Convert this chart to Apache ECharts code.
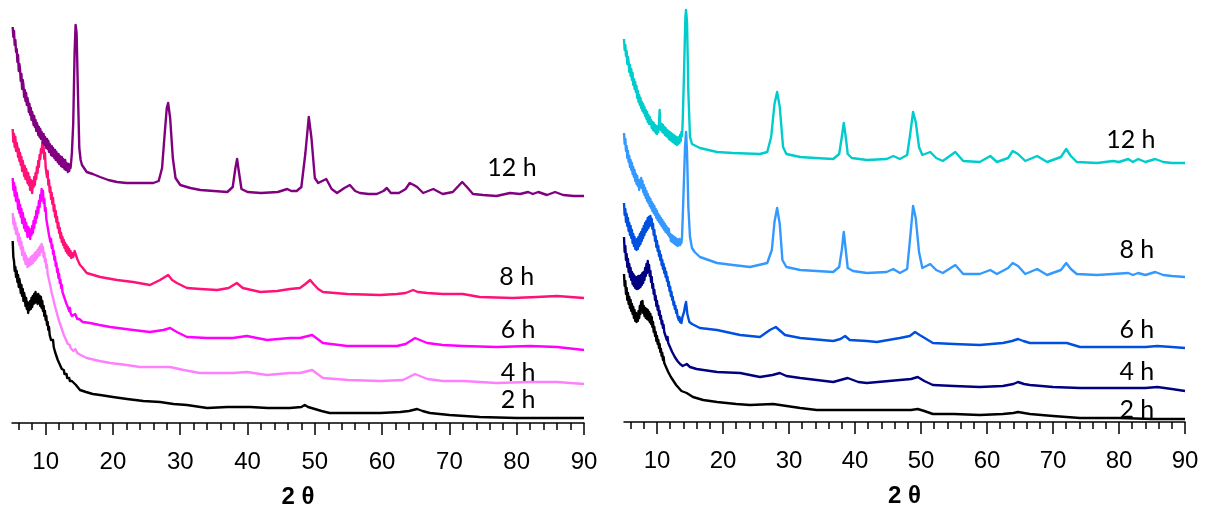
<!DOCTYPE html>
<html>
<head>
<meta charset="utf-8">
<script src="https://cdn.jsdelivr.net/npm/echarts@6/dist/echarts.min.js"></script>
<style>
  html, body { margin: 0; padding: 0; background: #ffffff; }
  #chart { width: 1208px; height: 512px; }
</style>
</head>
<body>
<div id="chart"></div>
<script>
// XRD patterns: intensity (a.u., each reaction time offset vertically) versus 2θ (degrees).
// Each pattern = a fine low-angle scan (0.1° step, noisy region) + the remaining [2θ, I] points.

const SCAN_STEP = 0.1;
const LEFT_SCAN_START = 5.1;
const RIGHT_SCAN_START = 5.0;

// ---------------- left panel ----------------
const left12hScan = [
  396,386,392,378,383,371,374,361,368,352,
  359,353,342,349,334,343,338,326,333,322,
  330,318,325,321,311,319,308,315,303,311,
  306,298,307,296,303,292,300,297,288,296,
  286,294,284,291,287,280,289,278,286,281,
  275,284,274,282,271,279,276,268,277,267,
  275,270,265,273,263,271,266,261,269,259,
  267,262,257,266,256,264,259,254,263,253,
  260,256,251,259,252,258,255,262,270];
const left12hRest = [[14.1,300],[14.3,370],[14.45,398],[14.6,390],[14.8,330],[15.0,275],[15.2,263],[15.4,258],[16.1,251],[17,249],[18.1,246],[19.3,243],[20.6,241],[22,240],[24.5,240],[26,240],[26.8,242],[27.3,255],[27.7,290],[28.0,315],[28.2,320],[28.5,305],[28.9,265],[29.3,245],[30,238],[31.5,235],[33,233],[35,232],[37,231],[37.8,236],[38.2,255],[38.45,264],[38.7,252],[39.1,234],[40,231],[42,230],[44.5,231],[45.9,234],[46.5,232],[47.3,232],[48,236],[48.6,270],[49.1,306],[49.5,285],[50,245],[50.5,240],[51.7,244],[52.5,234],[53.3,230],[54.4,235],[55.2,238],[56,232],[56.7,230],[58,229],[59.2,229],[60.2,232],[60.7,235],[61.3,230],[62.5,230],[63.5,234],[64.1,240],[64.7,238],[65.2,236],[66.1,230],[67.6,234],[69,229],[70.5,231],[71.9,241],[72.6,236],[73.5,229],[75,228],[77,227],[79,230],[80.5,229],[81.7,231],[82.4,229],[83.2,231],[84.5,228],[85.7,231],[86.9,228],[88.5,227],[90,227]];

const left8hScan = [
  294,281,289,276,286,272,280,276,266,274,
  262,270,258,266,252,262,256,247,257,244,
  254,248,240,250,238,246,233,243,236,230,
  242,236,246,238,250,244,256,250,262,256,
  268,264,274,270,281,272,276,264,270,256,
  258,246,252,238,243,231,236,224,230,219,
  225,212,218,206,212,201,206,195,200,190,
  195,185,190,181,186,178,183,175,180,172,
  178,170,176,168,174,167,172,165,170];
const left8hRest = [[14.1,166],[14.3,172],[14.5,174],[14.7,164],[14.9,162],[15.1,158],[15.4,156],[16.1,150],[18.1,146],[20.6,143],[23,141],[25.5,138],[27,143],[28.2,148],[28.8,143],[29.5,140],[31,135],[33,134],[35.5,133],[37.2,135],[38.4,140],[39.3,135],[41.9,131],[44.4,132],[46.3,134],[47.8,135],[48.6,139],[49.3,143],[49.8,139],[50.5,134],[51.2,131],[54.8,129],[59.7,128],[62.2,129],[63.5,130],[64.6,133],[65.3,131],[66.7,130],[69,129],[72,129],[74.5,126],[79.4,125],[83,126],[86,127],[88,126],[90,125]];

const left6hScan = [
  245,233,240,227,236,222,230,225,214,223,
  210,218,206,214,200,210,204,195,204,192,
  200,195,186,196,187,194,184,193,188,197,
  190,202,195,206,200,212,205,216,210,222,
  216,228,222,234,228,232,220,224,212,215,
  204,206,196,198,188,190,181,184,175,178,
  169,172,163,166,157,160,151,154,145,149,
  140,143,135,138,131,133,127,129,123,125,
  119,121,116,118,112,115,110,112,107];
const left6hRest = [[14.1,106],[14.4,109],[14.7,104],[15.0,104],[15.5,101],[16.6,100],[18,98],[19.6,96],[23,93],[25.5,91],[27.5,93],[28.5,95],[29.5,91],[31,86],[34,85],[37.8,85],[39.9,87],[42.9,83],[46.3,85],[47.8,85],[49.6,88],[51.2,80],[54.8,77],[58,77],[62.2,77],[63.5,79],[64.9,85],[66.7,80],[69,78],[72,77],[77,76],[82,77],[86,76],[90,73]];

const left4hScan = [
  210,199,205,194,200,189,195,191,182,189,
  178,185,174,181,168,176,170,163,170,159,
  167,161,156,164,157,164,158,166,159,167,
  160,168,162,170,163,171,165,173,167,175,
  168,177,171,179,172,176,166,170,161,164,
  155,158,149,151,143,144,137,138,130,131,
  125,125,119,120,114,115,109,110,104,105,
  100,100,96,96,92,92,88,89,85,86,
  82,83,79,80,77,78,75,76,73];
const left4hRest = [[14.1,72],[14.4,74],[14.7,70],[15.2,68],[16.1,65],[18,62],[19.6,60],[22,58],[24,56],[26,56],[28.5,56],[30.5,53],[32.9,50],[35,50],[37.8,50],[39.9,51],[42.9,48],[46.3,50],[47.8,50],[49.6,53],[51.2,45],[55,43],[59.7,42],[63.1,43],[64.9,49],[66.7,44],[69,42],[72,42],[77,40],[82,41],[86,41],[90,39]];

const left2hScan = [
  182,166,162,152,156,146,152,141,148,136,
  144,139,130,138,127,134,122,130,126,117,
  125,114,121,110,119,113,122,114,125,116,
  127,119,129,120,131,121,128,119,129,120,
  127,117,126,115,122,112,117,107,112,103,
  107,98,101,93,96,88,90,83,85,81,
  83,76,78,71,73,67,69,63,65,60,
  62,57,59,54,56,52,53,49,51,47,
  49,45,47,44,45,42,44,41,42];
const left2hRest = [[14.5,38],[15.1,33],[16,31],[17,29],[18.1,28],[20,26],[22.1,24],[24.5,22],[27,21],[29,19],[31,18],[34,15],[37,16],[40.4,16],[43,15],[46.3,15],[48,16],[48.5,18],[49,16],[50,14],[51,12],[52.2,10],[56,10],[59.7,10],[62.7,11],[64,12],[65.2,14],[66,12],[67.1,10],[70,8],[74.5,6],[80,5],[85,5],[90,5]];

// ---------------- right panel ----------------
const right12hScan = [
  383,372,377,366,371,358,365,360,350,357,
  346,353,342,349,337,343,333,340,330,336,
  324,331,320,327,317,324,314,320,311,318,
  309,315,306,312,303,310,300,307,298,305,
  298,302,294,300,292,299,291,297,289,296,
  288,295,290,298,312,295,292,298,290,297,
  289,295,287,294,286,292,285,291,283,290,
  282,289,281,288,280,287,279,286,278,285,
  277,284,278,285,279,287,281,290,286,302];
const right12hRest = [[14.1,350],[14.3,405],[14.4,412],[14.55,400],[14.75,330],[15.0,285],[15.3,278],[16.5,274],[19.1,270],[21.5,269],[25.6,268],[26.7,270],[27.3,285],[27.8,318],[28.2,330],[28.6,315],[29.1,275],[29.6,268],[31.7,265],[34,264],[36.7,263],[37.6,268],[38.0,285],[38.3,299],[38.6,285],[38.9,268],[39.5,264],[41.8,262],[44.8,263],[45.8,266],[46.8,263],[47.9,267],[48.3,285],[48.8,310],[49.2,300],[49.7,275],[50.2,267],[51.4,270],[52.3,264],[53.3,261],[55.2,270],[56.4,261],[58.9,260],[60.5,266],[61.5,260],[63.2,264],[63.9,271],[64.7,268],[65.8,261],[67.6,266],[69.1,260],[71.2,265],[72,273],[72.7,266],[73.6,260],[76.7,259],[79.1,261],[80,260],[81.4,263],[82.1,260],[82.9,263],[84,260],[85.5,263],[86.7,260],[88,259],[90,259]];

const right8hScan = [
  289,278,283,271,276,264,271,260,266,255,
  262,252,259,248,255,245,252,241,248,238,
  246,236,242,232,239,238,244,234,241,230,
  237,227,234,224,231,221,228,219,225,216,
  223,214,220,211,218,209,216,207,213,204,
  211,202,208,200,206,198,204,196,202,194,
  200,192,198,190,196,189,194,187,193,185,
  188,181,187,180,186,179,185,178,184,177,
  183,176,182,177,183,177,182,179,186,205];
const right8hRest = [[14.1,245],[14.25,275],[14.4,290],[14.55,270],[14.75,215],[15.0,185],[15.3,174],[15.7,170],[16.5,165],[19.1,159],[21.5,157],[24.1,155],[26.7,159],[27.4,172],[27.8,200],[28.2,214],[28.6,198],[29.0,162],[29.6,155],[31.7,152],[34.2,151],[36.7,150],[37.6,155],[38.0,172],[38.3,190],[38.6,172],[38.9,154],[39.7,151],[41.8,149],[44.8,150],[45.8,153],[46.8,149],[47.9,153],[48.3,180],[48.8,216],[49.2,204],[49.7,170],[50.2,154],[51.4,158],[52.3,152],[53.3,149],[55.2,157],[56.4,148],[58.9,148],[60.5,152],[61.5,148],[63.2,154],[63.9,159],[64.7,156],[65.8,148],[67.6,153],[69.1,147],[71.2,152],[72,159],[72.7,153],[73.6,148],[76.7,147],[79.1,148],[81.4,149],[82.1,147],[82.9,149],[84,147],[85.5,150],[86.7,147],[88,146],[90,145]];

const right6hScan = [
  219,207,213,200,208,196,204,191,199,187,
  196,184,192,179,188,176,185,173,182,172,
  183,173,185,176,188,178,190,181,193,184,
  196,187,199,190,201,192,204,194,205,196,
  206,197,203,193,198,187,192,181,186,175,
  181,171,176,166,171,162,167,157,162,153,
  158,149,154,145,150,141,145,136,140,131,
  135,126,130,122,125,117,120,113,116,109,
  112,106,108,102,105,100,103,99,103,106];
const right6hRest = [[14.1,110],[14.25,116],[14.4,120],[14.6,108],[14.9,100],[15.3,98],[16.5,94],[19.1,92],[22.6,87],[25.6,85],[27.1,92],[28.0,95],[28.7,91],[29.4,87],[31.7,84],[36.7,81],[37.8,83],[38.5,86],[39.2,82],[41.8,81],[43.3,80],[46.8,84],[48.3,86],[49.1,90],[49.8,87],[50.3,85],[51.8,79],[55,78],[58.9,77],[62.4,79],[63.8,81],[64.7,83],[65.5,81],[66.5,79],[70,79],[72.1,79],[74.1,75],[79.1,75],[84,75],[85.8,76],[88,75],[90,74]];

const right4hScan = [
  185,170,176,162,168,155,163,150,158,145,
  154,142,150,138,148,136,146,134,144,133,
  145,133,146,134,146,135,147,137,149,139,
  150,142,154,146,158,149,161,152,157,146,
  151,140,145,134,138,128,132,122,126,116,
  121,112,116,107,111,103,106,98,101,94,
  97,90,92,86,88,82,85,79,81,76,
  78,73,75,70,72,68,69,65,67,63,
  65,61,63,60,61,58,60,57,59,56];
const right4hRest = [[14.5,58],[15.0,55],[16,53],[19.1,50],[22.6,49],[25.6,45],[27.5,47],[28.6,49],[29.6,46],[31.7,44],[36.7,40],[38.9,44],[40.5,40],[41.8,39],[46.8,42],[48.5,43],[49.5,45],[50.5,41],[51.8,37],[55,36],[58.9,35],[62.4,36],[64,38],[64.7,40],[65.6,38],[66.5,37],[70,35],[74.1,34],[80,34],[84,34],[85.8,35],[88,33],[90,31]];

const right2hScan = [
  148,136,141,128,134,122,129,118,125,114,
  122,111,118,108,115,104,112,101,109,100,
  108,101,111,104,116,108,120,112,121,109,
  116,106,114,104,113,103,112,102,110,100,
  108,98,105,95,100,90,95,86,90,81,
  86,78,82,74,78,70,73,66,69,62,
  65,59,61,56,58,53,55,50,52,48,
  49,45,47,43,44,41,42,39,40,37,
  38,35,36,34,35,32,33,31,32,30];
const right2hRest = [[14.5,29],[15.45,25],[17,22],[19.1,20],[22,18],[24.1,17],[27.6,18],[31.7,14],[34.2,12],[38,12],[41.8,12],[46.8,12],[48.5,12],[49.5,13],[50.5,11],[51.8,8],[55,8],[58.9,7],[62.4,8],[64,9],[64.7,10],[65.6,9],[66.5,8],[70,6],[74.1,4],[80,4],[85,3],[90,3]];

// ---------------- axis ticks and labels ----------------
const majorTicks = [10, 20, 30, 40, 50, 60, 70, 80, 90];
const minorTicks = [6, 8, 12, 14, 16, 18, 22, 24, 26, 28, 32, 34, 36, 38, 42, 44, 46, 48,
                    52, 54, 56, 58, 62, 64, 66, 68, 72, 74, 76, 78, 82, 84, 86, 88];
const axisTitle = '2 θ';
const timeLabels = ['12 h', '8 h', '6 h', '4 h', '2 h'];

// join a fine scan (start, step) with the following [2θ, I] points
function pattern(start, scan, rest) {
  return scan.map((v, i) => [+(start + i * SCAN_STEP).toFixed(2), v]).concat(rest);
}

const leftSeries = [
  pattern(LEFT_SCAN_START, left12hScan, left12hRest),
  pattern(LEFT_SCAN_START, left8hScan, left8hRest),
  pattern(LEFT_SCAN_START, left6hScan, left6hRest),
  pattern(LEFT_SCAN_START, left4hScan, left4hRest),
  pattern(LEFT_SCAN_START, left2hScan, left2hRest)
];
const rightSeries = [
  pattern(RIGHT_SCAN_START, right12hScan, right12hRest),
  pattern(RIGHT_SCAN_START, right8hScan, right8hRest),
  pattern(RIGHT_SCAN_START, right6hScan, right6hRest),
  pattern(RIGHT_SCAN_START, right4hScan, right4hRest),
  pattern(RIGHT_SCAN_START, right2hScan, right2hRest)
];
const leftColors = ['#800080', '#FF1177', '#FF00FF', '#FF80FF', '#000000'];
const rightColors = ['#00CCCC', '#3399FF', '#0050E0', '#000080', '#000000'];
// where each time label sits, in (2θ, intensity) units
const leftLabelAt = [[79.3, 255], [80.0, 146], [80.2, 93], [80.2, 50], [80.2, 23]];
const rightLabelAt = [[81.8, 282], [82.7, 172], [82.7, 92], [82.7, 50], [82.7, 12]];

const SANS = '"Liberation Sans", Arial, sans-serif';
const LABEL_FONT = 'Lato, sans-serif';

const grids = [
  { left: 12, width: 572, top: 0, height: 423, outerBoundsMode: 'none', containLabel: false },
  { left: 624, width: 561, top: 0, height: 422, outerBoundsMode: 'none', containLabel: false }
];

function xAxes(gridIndex) {
  const base = {
    type: 'value', gridIndex, min: 5, max: 90, position: 'bottom',
    splitLine: { show: false }
  };
  return [
    Object.assign({}, base, {
      axisLine: { show: true, lineStyle: { color: '#000', width: 1.5 } },
      axisTick: { show: true, customValues: majorTicks, length: 12, lineStyle: { color: '#000', width: 1.5 } },
      axisLabel: { show: true, customValues: majorTicks, margin: 27, color: '#000',
                   fontFamily: SANS, fontSize: 24 },
      name: axisTitle, nameLocation: 'middle', nameGap: 62,
      nameTextStyle: { color: '#000', fontFamily: SANS, fontWeight: 'bold', fontSize: 24 }
    }),
    Object.assign({}, base, {
      axisLine: { show: false },
      axisTick: { show: true, customValues: minorTicks, length: 7, lineStyle: { color: '#000', width: 1.5 } },
      axisLabel: { show: false }
    })
  ];
}

const yAxes = [
  { type: 'value', gridIndex: 0, min: 0, max: 423, show: false },
  { type: 'value', gridIndex: 1, min: 0, max: 422, show: false }
];

function makeSeries(list, colors, labelAt, panel) {
  return list.map((data, i) => ({
    name: timeLabels[i],
    type: 'line',
    xAxisIndex: panel * 2,
    yAxisIndex: panel,
    data: data,
    showSymbol: false,
    symbol: 'none',
    silent: true,
    z: 10 - i,
    lineStyle: { color: colors[i], width: 2.4, join: 'round' },
    markPoint: {
      symbol: 'circle', symbolSize: 0, silent: true,
      data: [{ coord: labelAt[i] }],
      label: {
        show: true, position: 'inside', formatter: timeLabels[i],
        color: '#000', fontFamily: LABEL_FONT, fontSize: 25
      }
    }
  })).reverse();
}

const chart = echarts.init(document.getElementById('chart'), null, { renderer: 'canvas' });
chart.setOption({
  animation: false,
  backgroundColor: '#ffffff',
  grid: grids,
  xAxis: xAxes(0).concat(xAxes(1)),
  yAxis: yAxes,
  series: makeSeries(leftSeries, leftColors, leftLabelAt, 0)
    .concat(makeSeries(rightSeries, rightColors, rightLabelAt, 1))
});
</script>
</body>
</html>
